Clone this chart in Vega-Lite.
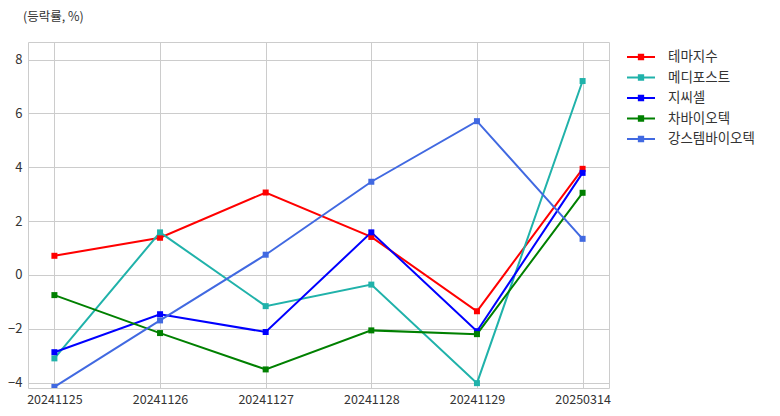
{
  "$schema": "https://vega.github.io/schema/vega-lite/v6.json",
  "width": 581,
  "height": 346,
  "autosize": {"type": "none"},
  "padding": {"left": 28, "top": 42, "right": 171, "bottom": 28},
  "background": "white",
  "config": {
    "font": "Noto Sans CJK KR",
    "view": {"stroke": "#cccccc", "strokeWidth": 1}
  },
  "title": {
    "text": "(등락률, %)",
    "anchor": "start",
    "frame": "group",
    "fontSize": 12.5,
    "fontWeight": "normal",
    "color": "#333333",
    "dx": -5,
    "offset": 19
  },
  "data": {
    "values": [
      {"date": "20241125", "name": "테마지수", "value": 0.71},
      {"date": "20241126", "name": "테마지수", "value": 1.38},
      {"date": "20241127", "name": "테마지수", "value": 3.06},
      {"date": "20241128", "name": "테마지수", "value": 1.41},
      {"date": "20241129", "name": "테마지수", "value": -1.35},
      {"date": "20250314", "name": "테마지수", "value": 3.94},
      {"date": "20241125", "name": "메디포스트", "value": -3.1},
      {"date": "20241126", "name": "메디포스트", "value": 1.58},
      {"date": "20241127", "name": "메디포스트", "value": -1.16},
      {"date": "20241128", "name": "메디포스트", "value": -0.36},
      {"date": "20241129", "name": "메디포스트", "value": -4.02},
      {"date": "20250314", "name": "메디포스트", "value": 7.2},
      {"date": "20241125", "name": "지씨셀", "value": -2.87},
      {"date": "20241126", "name": "지씨셀", "value": -1.46},
      {"date": "20241127", "name": "지씨셀", "value": -2.12},
      {"date": "20241128", "name": "지씨셀", "value": 1.58},
      {"date": "20241129", "name": "지씨셀", "value": -2.09},
      {"date": "20250314", "name": "지씨셀", "value": 3.79},
      {"date": "20241125", "name": "차바이오텍", "value": -0.75},
      {"date": "20241126", "name": "차바이오텍", "value": -2.16},
      {"date": "20241127", "name": "차바이오텍", "value": -3.51},
      {"date": "20241128", "name": "차바이오텍", "value": -2.06},
      {"date": "20241129", "name": "차바이오텍", "value": -2.2},
      {"date": "20250314", "name": "차바이오텍", "value": 3.05},
      {"date": "20241125", "name": "강스템바이오텍", "value": -4.16},
      {"date": "20241126", "name": "강스템바이오텍", "value": -1.69},
      {"date": "20241127", "name": "강스템바이오텍", "value": 0.75},
      {"date": "20241128", "name": "강스템바이오텍", "value": 3.46},
      {"date": "20241129", "name": "강스템바이오텍", "value": 5.71},
      {"date": "20250314", "name": "강스템바이오텍", "value": 1.34}
    ]
  },
  "mark": {
    "type": "line",
    "strokeWidth": 2,
    "clip": true,
    "point": {"filled": true, "shape": "square", "size": 36, "opacity": 1}
  },
  "encoding": {
    "x": {
      "field": "date",
      "type": "ordinal",
      "sort": null,
      "scale": {"type": "point", "padding": 0.25},
      "axis": {
        "title": null,
        "labelAngle": 0,
        "labelFontSize": 12.5,
        "labelColor": "#333333",
        "labelPadding": 5,
        "ticks": false,
        "domain": false,
        "grid": true,
        "gridColor": "#cccccc",
        "gridWidth": 1
      }
    },
    "y": {
      "field": "value",
      "type": "quantitative",
      "scale": {"domain": [-4.2, 8.65], "nice": false, "zero": false},
      "axis": {
        "title": null,
        "values": [-4, -2, 0, 2, 4, 6, 8],
        "labelFontSize": 13,
        "labelColor": "#333333",
        "labelPadding": 6,
        "ticks": false,
        "domain": false,
        "grid": true,
        "gridColor": "#cccccc",
        "gridWidth": 1
      }
    },
    "color": {
      "field": "name",
      "type": "nominal",
      "scale": {
        "domain": ["테마지수", "메디포스트", "지씨셀", "차바이오텍", "강스템바이오텍"],
        "range": ["#ff0000", "#20b2aa", "#0000ff", "#008000", "#4169e1"]
      },
      "legend": {
        "title": null,
        "orient": "none",
        "legendX": 606,
        "legendY": 8,
        "symbolType": "M-2,-0.14H2V0.14H-2Z M-0.45,-0.45H0.45V0.45H-0.45Z",
        "symbolSize": 196,
        "symbolStrokeWidth": 0,
        "symbolOpacity": 1,
        "labelFontSize": 13.5,
        "labelColor": "#333333",
        "labelOffset": 20,
        "rowPadding": 6.5
      }
    }
  }
}
